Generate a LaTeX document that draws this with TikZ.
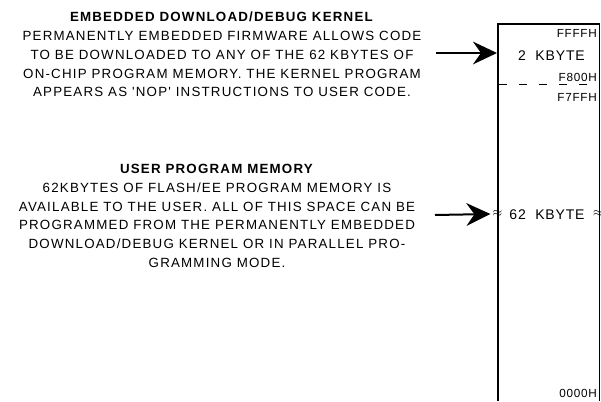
\documentclass[tikz,border=0pt]{standalone}
\usepackage{fontspec}
\setmainfont{Liberation Sans}
\newfontfamily\notefont[LetterSpace=9]{Liberation Sans}
\newfontfamily\mapfont[LetterSpace=6]{Liberation Sans}
\usetikzlibrary{arrows.meta}

\begin{document}
\begin{tikzpicture}[x=0.75pt,y=0.75pt,yscale=-1,xscale=1,
  note/.style={align=center,inner sep=0.75pt,font=\notefont\fontsize{10}{14.1}\selectfont},
  addr/.style={anchor=east,inner sep=0pt,font=\mapfont\fontsize{8.8}{10}\selectfont},
  size/.style={inner sep=0pt,font=\mapfont\fontsize{10.5}{12}\selectfont},
  wave/.style={inner sep=1.5pt,font=\fontsize{9}{10}\selectfont},
  pointer/.style={line width=1.5pt,-{Stealth[length=18pt,width=17pt,inset=6pt]}}]
\useasboundingbox (0,0) rectangle (601,401);
%Shape: open frame of the memory map
\draw [line width=1.5pt]    (498,401) -- (498,24) -- (599.5,24) ;
\draw [line width=0.6pt]    (599.5,24) -- (599.5,401) ;
%Dashed Lines
\draw [line width=0.75pt, dash pattern=on 6pt off 9pt]    (499,84) -- (598,84) ;
% Text Node
\node [note] (kernelnote) at (222,54.5) {\textbf{EMBEDDED DOWNLOAD/DEBUG KERNEL}\\PERMANENTLY EMBEDDED FIRMWARE ALLOWS CODE\\TO BE DOWNLOADED TO ANY OF THE 62 KBYTES OF\\ON-CHIP PROGRAM MEMORY. THE KERNEL PROGRAM\\APPEARS AS 'NOP' INSTRUCTIONS TO USER CODE.};
% Text Node
\node [note] (usernote) at (217,216) {\textbf{USER PROGRAM MEMORY}\\62KBYTES OF FLASH/EE PROGRAM MEMORY IS\\AVAILABLE TO THE USER. ALL OF THIS SPACE CAN BE\\PROGRAMMED FROM THE PERMANENTLY EMBEDDED\\DOWNLOAD/DEBUG KERNEL OR IN PARALLEL PRO-\\GRAMMING MODE.};
% Text Node
\node [addr] (topaddr) at (597,33) {FFFFH};
\node [size] (kernelsize) at (551.5,56) {2\ \ KBYTE};
\node [addr] (kernelbase) at (597,77) {F800H};
\node [addr] (usertop) at (597,97) {F7FFH};
\node [size] (usersize) at (547,215) {62\ \ KBYTE};
\node [wave] (leftbreak) at (497.5,214) {$\approx$};
\node [wave] (rightbreak) at (598,214) {$\approx$};
\node [addr] (bottomaddr) at (597,393) {0000H};
%Straight Lines
\coordinate (kernelfrom) at (436,53);
\coordinate (kernelto) at (497,53);
\draw [pointer]    (kernelfrom) -- (kernelto) ;
%Straight Lines
\coordinate (userfrom) at (435,215);
\draw [pointer]    (userfrom) -- (leftbreak.west) ;
\end{tikzpicture}
\end{document}
